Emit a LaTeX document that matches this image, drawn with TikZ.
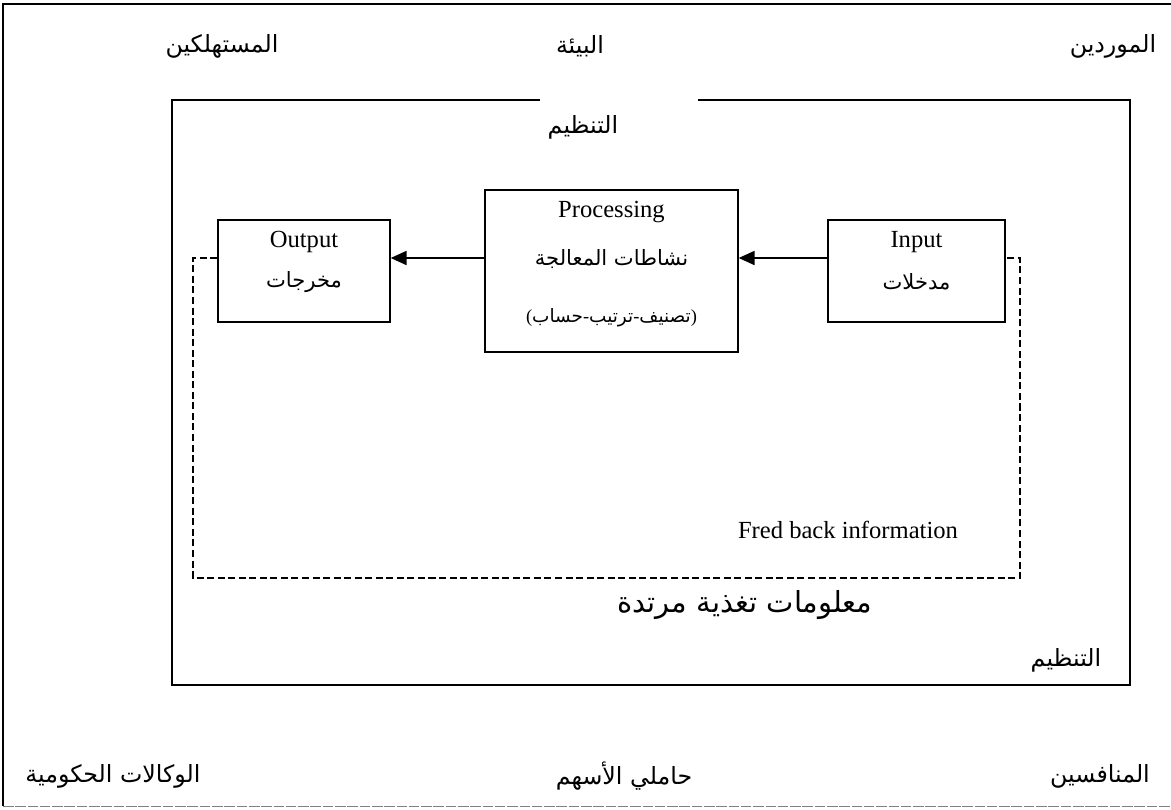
\documentclass[tikz,border=0pt]{standalone}
\usepackage{fontspec}
\setmainfont{Liberation Serif}
\newfontfamily\arabicfont[Script=Arabic]{DejaVu Sans}
\TeXXeTstate=1
\usetikzlibrary{arrows.meta}
% Arabic run, right to left
\newcommand{\artext}[1]{{\arabicfont\beginR #1\endR}}

\begin{document}
\begin{tikzpicture}[x=0.02cm,y=-0.02cm,
  line/.style={line width=0.8pt},
  stagebox/.style={draw,line width=0.8pt},
  lbl/.style={font=\fontsize{14}{16}\selectfont,inner sep=0pt},
  albl/.style={font=\fontsize{12}{14}\selectfont,inner sep=0pt},
  envlbl/.style={font=\fontsize{13.5}{16}\selectfont,inner sep=0pt},
  flow/.style={line width=0.8pt,-{Triangle[length=9pt,width=8pt]}},
  feedback/.style={line width=0.7pt,dash pattern=on 4pt off 2pt}]
\useasboundingbox (0,0) rectangle (1171,809);

% outer frame: the environment
\draw[line] (1171,4) -- (3,4) -- (3,806);
\draw[line width=0.5pt,gray,dash pattern=on 6pt off 1pt] (3,806) -- (1171,806);

% environment labels
\node[envlbl] (consumers) at (222,46) {\artext{المستهلكين}};
\node[envlbl] (environment) at (580,46) {\artext{البيئة}};
\node[envlbl] (suppliers) at (1113,46) {\artext{الموردين}};
\node[envlbl] (agencies) at (113,776) {\artext{الوكالات الحكومية}};
\node[envlbl] (shareholders) at (624,776) {\artext{حاملي الأسهم}};
\node[envlbl] (competitors) at (1100,776) {\artext{المنافسين}};

% organisation frame with a gap in its top edge
\coordinate (gapL) at (540,100);
\coordinate (gapR) at (698,100);
\draw[line] (gapL) -- (172,100) -- (172,685) -- (1130,685) -- (1130,100) -- (gapR);
\node[envlbl] (orgtop) at (583,127) {\artext{التنظيم}};
\node[envlbl] (orgbottom) at (1066,660) {\artext{التنظيم}};

% the three stages
\node[stagebox,minimum width=172*0.02cm,minimum height=102*0.02cm] (out) at (304,271) {};
\node[stagebox,minimum width=253*0.02cm,minimum height=162*0.02cm] (proc) at (611.5,271) {};
\node[stagebox,minimum width=177*0.02cm,minimum height=102*0.02cm] (in) at (916.5,271) {};

\node[lbl] (outEn) at (304,242) {Output};
\node[albl] (outAr) at (304,282) {\artext{مخرجات}};
\node[lbl] (procEn) at (611.5,212) {Processing};
\node[albl] (procAr) at (611.5,259) {\artext{نشاطات المعالجة}};
\node[inner sep=0pt,font=\fontsize{10.5}{12}\selectfont] (procSub) at (611.5,318)
  {({\arabicfont حساب}-{\arabicfont ترتيب}-{\arabicfont تصنيف})};
\node[lbl] (inEn) at (916.5,242) {Input};
\node[albl] (inAr) at (916.5,282) {\artext{مدخلات}};

% forward flow
\coordinate (procIn) at (proc.east |- 0,258);
\coordinate (inOut) at (in.west |- 0,258);
\coordinate (outIn) at (out.east |- 0,258);
\coordinate (procOut) at (proc.west |- 0,258);
\draw[flow] (inOut) -- (procIn);
\draw[flow] (procOut) -- (outIn);

% feedback loop
\coordinate (fbA) at (out.west |- 0,258);
\coordinate (fbB) at (193,258);
\coordinate (fbC) at (193,578);
\coordinate (fbD) at (1020,578);
\coordinate (fbE) at (1020,258);
\coordinate (fbF) at (in.east |- 0,258);
\draw[feedback] (fbA) -- (fbB) -- (fbC) -- (fbD) -- (fbE) -- (fbF);

\node[lbl] (fbEn) at (848,530) {Fred back information};
\node[inner sep=0pt,font=\fontsize{16.5}{19}\selectfont] (fbAr) at (745,605) {\artext{معلومات تغذية مرتدة}};
\end{tikzpicture}
\end{document}
